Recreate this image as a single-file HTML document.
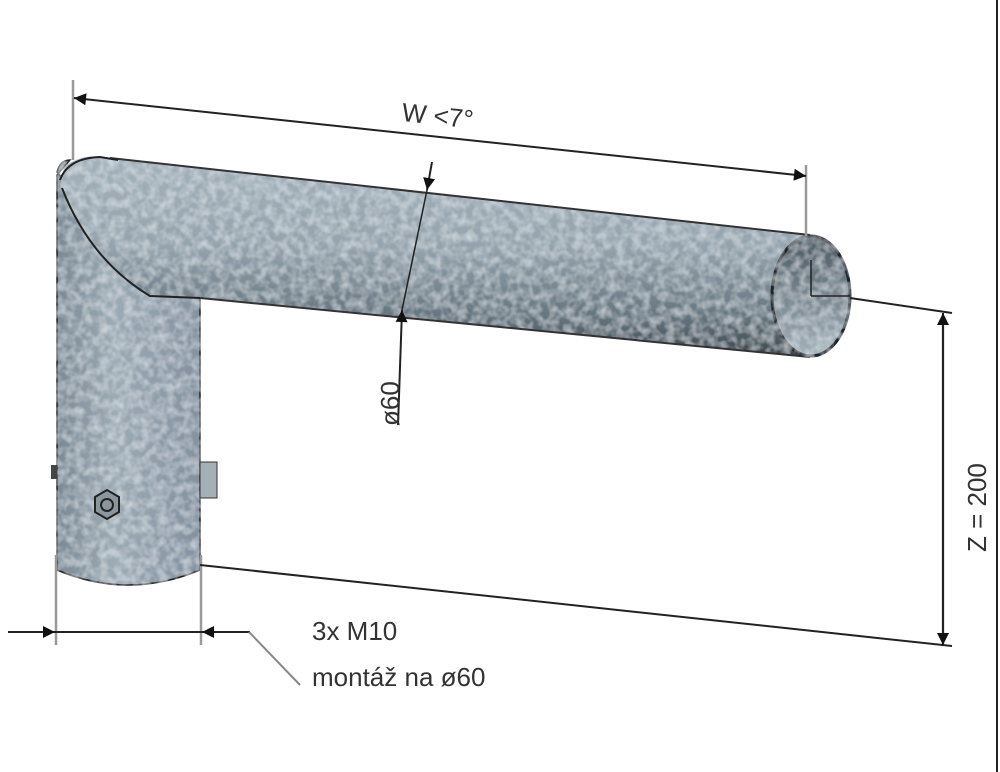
<!DOCTYPE html>
<html><head><style>html,body{margin:0;padding:0;background:#fff;}svg{display:block}</style></head><body>
<svg width="1000" height="772" viewBox="0 0 1000 772" xmlns="http://www.w3.org/2000/svg" font-family="Liberation Sans, sans-serif">
<defs>
<linearGradient id="hg" x1="0" y1="0" x2="0" y2="1">
<stop offset="0" stop-color="#a3b1bb"/><stop offset="0.45" stop-color="#94a3ad"/><stop offset="0.8" stop-color="#65757f"/><stop offset="1" stop-color="#3a464e"/></linearGradient>
<linearGradient id="vg" x1="0" y1="0" x2="1" y2="0">
<stop offset="0" stop-color="#7a8994"/><stop offset="0.4" stop-color="#9dabb5"/><stop offset="1" stop-color="#8391a0"/></linearGradient>
<linearGradient id="eg" x1="0" y1="0" x2="0" y2="1">
<stop offset="0" stop-color="#4a5862"/><stop offset="1" stop-color="#a5b3bc"/></linearGradient>
<filter id="tx"><feTurbulence type="fractalNoise" baseFrequency="0.12" numOctaves="2" seed="3"/><feColorMatrix values="0 0 0 0 0.8  0 0 0 0 0.85  0 0 0 0 0.9  0 0 0 0.9 -0.3"/><feComposite in2="SourceGraphic" operator="in"/><feBlend in="SourceGraphic" mode="screen"/></filter>
<marker id="ar" viewBox="0 0 10 10" refX="10" refY="5" markerWidth="14" markerHeight="12" markerUnits="userSpaceOnUse" orient="auto-start-reverse"><path d="M0,0 L10,5 L0,10z" fill="#111"/></marker>
</defs>
<path d="M57,172 Q60,160 70,160 L57,175 L57,570 Q128,600 200,570 L200,290 L90,210 Z" fill="url(#vg)" filter="url(#tx)" stroke="#222" stroke-width="1.5"/>
<path d="M64,168 Q80,152 110,158 L810,235 L810,357 L200,298 L150,296 Q100,270 60,185 Z" fill="url(#hg)" filter="url(#tx)"/>
<path d="M110,158 L810,235 M200,298 L810,357" stroke="#333" stroke-width="2" fill="none"/>
<path d="M60,180 Q68,158 100,157 L118,160 M62,188 Q90,260 150,296 L200,298" stroke="#222" stroke-width="2" fill="none"/>
<ellipse cx="811" cy="296" rx="39" ry="60" fill="url(#eg)" filter="url(#tx)" stroke="#1c2329" stroke-width="3"/>
<path d="M811,296 L850,296 M811,296 L811,260" stroke="#222" stroke-width="1.5"/>
<polygon points="95,497 107,490 119,497 119,512 107,519 95,512" fill="#8a979f" stroke="#222" stroke-width="2"/>
<circle cx="107" cy="505" r="6" fill="none" stroke="#222" stroke-width="2"/>
<rect x="200" y="462" width="17" height="36" fill="#a4b0b7" stroke="#333"/>
<rect x="51" y="465" width="6" height="14" fill="#444"/>
<g stroke="#999" stroke-width="2.5" fill="none">
<path d="M73,80 L73,160"/><path d="M806,165 L806,236"/>
<path d="M56,555 L56,645"/><path d="M201,555 L201,645"/>
<path d="M943,318 L943,645"/>
</g>
<g stroke="#222" stroke-width="2" fill="none">
<path d="M74,98 L806,176" marker-start="url(#ar)" marker-end="url(#ar)"/>
<path d="M850,298 L952,313"/><path d="M200,565 L952,646"/>
<path d="M943,480 L943,313" marker-end="url(#ar)"/><path d="M943,480 L943,645" marker-end="url(#ar)"/>
<path d="M8,632 L55,632" marker-end="url(#ar)"/><path d="M250,632 L202,632" marker-end="url(#ar)"/>
<path d="M55,632 L202,632"/>
<path d="M432,162 L427,190" marker-end="url(#ar)"/>
<path d="M398,425 L402,310" marker-end="url(#ar)"/>
<path d="M427,190 L402,310" stroke-width="1.5"/>
</g>
<path d="M249,632 L300,685" stroke="#888" stroke-width="2"/>
<path d="M997,0 L997,772" stroke="#222" stroke-width="2"/>
<g fill="#333" font-size="26">
<text x="402" y="126" transform="rotate(6 450 115)">W &lt;7°</text>
<text x="0" y="0" transform="translate(399,426) rotate(-90)">ø60</text>
<text x="0" y="0" transform="translate(986,552) rotate(-90)">Z = 200</text>
<text x="312" y="640">3x M10</text>
<text x="312" y="686">montáž na ø60</text>
</g>
</svg>
</body></html>
